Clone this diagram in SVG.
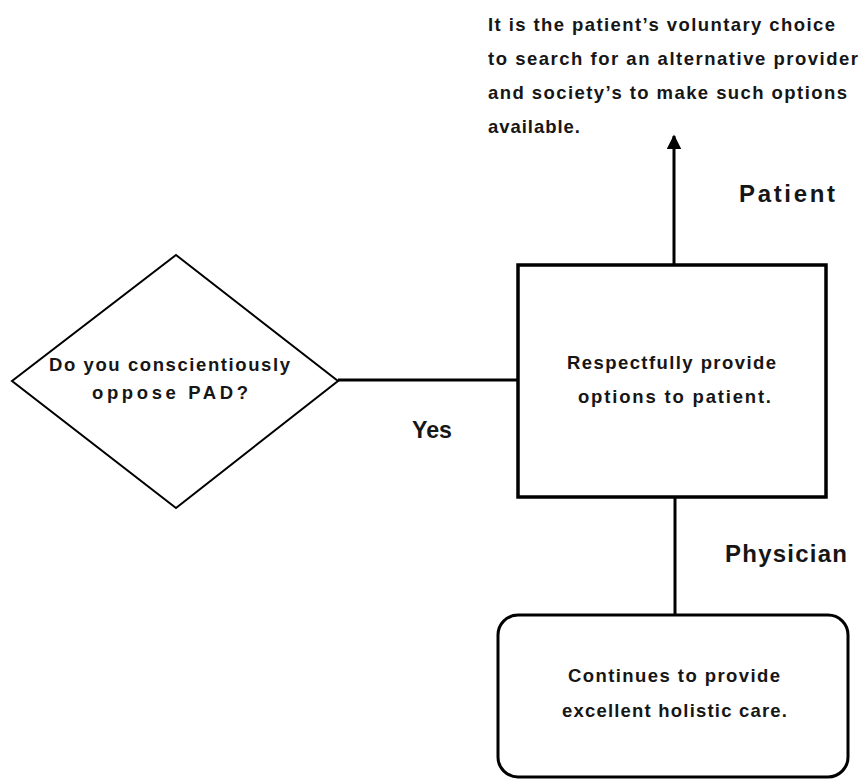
<svg xmlns="http://www.w3.org/2000/svg" width="864" height="780" viewBox="0 0 864 780">
<defs>
<style>
.t{font-family:"Liberation Sans",Arial,sans-serif;font-weight:bold;font-size:18.5px;fill:#161616}
.lb{font-family:"Liberation Sans",Arial,sans-serif;font-weight:bold;font-size:24px;fill:#161616}
.shape{fill:#fff;stroke:#000}
.conn{stroke:#000;stroke-width:3;fill:none}
</style>
<marker id="arr" viewBox="0 0 10 10" refX="9" refY="5" markerWidth="5" markerHeight="4.8" markerUnits="strokeWidth" orient="auto">
<path d="M0,0 L10,5 L0,10 Z" fill="#000"/>
</marker>
</defs>
<rect width="864" height="780" fill="#fff"/>
<g id="connectors">
<line class="conn" x1="338" y1="380" x2="518" y2="380"/>
<line class="conn" x1="674" y1="265" x2="674" y2="136" marker-end="url(#arr)"/>
<line class="conn" x1="675" y1="497" x2="675" y2="615"/>
</g>
<g id="note">
<text class="t" x="488" y="31" textLength="347" lengthAdjust="spacing">It is the patient’s voluntary choice</text>
<text class="t" x="488" y="65" textLength="370" lengthAdjust="spacing">to search for an alternative provider</text>
<text class="t" x="488" y="99" textLength="359" lengthAdjust="spacing">and society’s to make such options</text>
<text class="t" x="488" y="133" textLength="92" lengthAdjust="spacing">available.</text>
</g>
<g id="label-patient">
<text class="lb" x="739" y="202" textLength="96" lengthAdjust="spacing">Patient</text>
</g>
<g id="label-physician">
<text class="lb" x="725" y="562" textLength="122" lengthAdjust="spacing">Physician</text>
</g>
<g id="label-yes">
<text class="lb" x="412" y="438" textLength="40" lengthAdjust="spacingAndGlyphs">Yes</text>
</g>
<g id="decision">
<polygon class="shape" stroke-width="2" points="176,255 338,381 176,508 12,381"/>
<text class="t" x="49" y="371" textLength="241" lengthAdjust="spacing">Do you conscientiously</text>
<text class="t" x="92" y="399" textLength="156" lengthAdjust="spacing">oppose PAD?</text>
</g>
<g id="provide-options">
<rect class="shape" stroke-width="3.5" x="518" y="265" width="308" height="232"/>
<text class="t" x="567" y="369" textLength="209" lengthAdjust="spacing">Respectfully provide</text>
<text class="t" x="578" y="403" textLength="193" lengthAdjust="spacing">options to patient.</text>
</g>
<g id="holistic-care">
<rect class="shape" stroke-width="3" x="498" y="615" width="350" height="162" rx="20" ry="20"/>
<text class="t" x="568" y="682" textLength="212" lengthAdjust="spacing">Continues to provide</text>
<text class="t" x="562" y="717" textLength="225" lengthAdjust="spacing">excellent holistic care.</text>
</g>
</svg>
